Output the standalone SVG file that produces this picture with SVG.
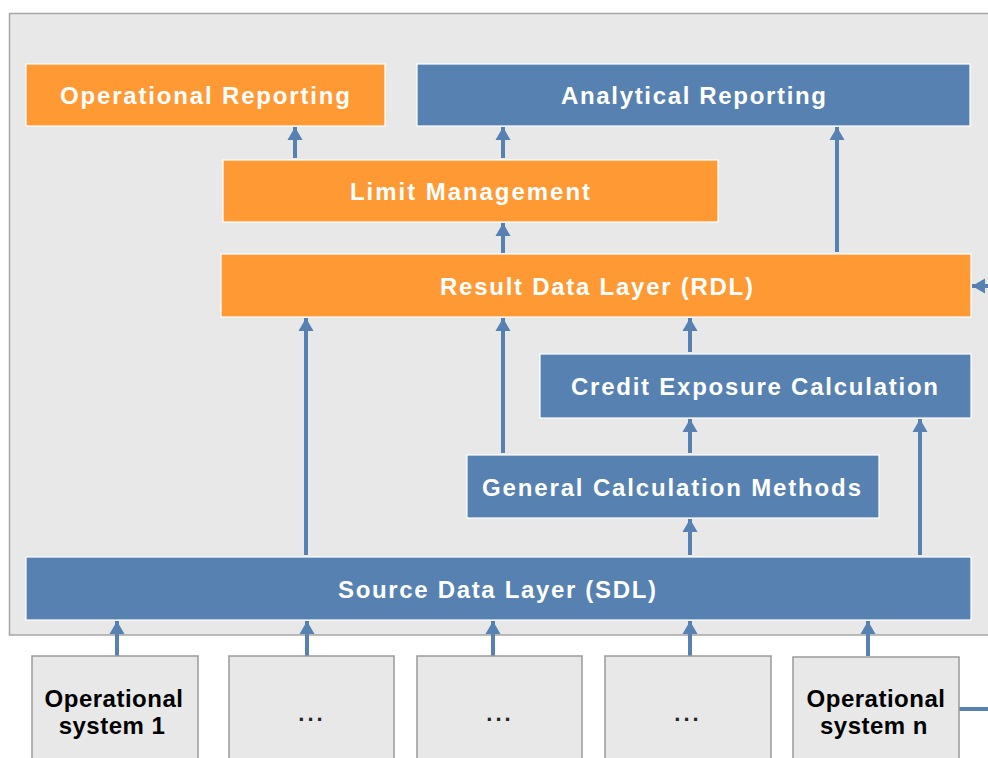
<svg xmlns="http://www.w3.org/2000/svg" width="988" height="758" viewBox="0 0 988 758">
<defs>
<style>
.bg{fill:#e8e8e8;stroke:#a6a6a6;stroke-width:1.5}
.or{fill:#ff9933;stroke:#ffffff;stroke-width:1.2}
.bl{fill:#5681b1;stroke:#ffffff;stroke-width:1.2}
.sys{fill:#e8e8e8;stroke:#9a9a9a;stroke-width:1.5}
.t{font-family:"Liberation Sans",Arial,sans-serif;font-weight:bold;font-size:24px;fill:#ffffff;text-anchor:middle}
.s{font-family:"Liberation Sans",Arial,sans-serif;font-weight:bold;font-size:24px;fill:#000000;text-anchor:middle;letter-spacing:0.5px}
.d{font-family:"Liberation Sans",Arial,sans-serif;font-weight:bold;font-size:22px;fill:#222222;text-anchor:middle;letter-spacing:3px}
.c{stroke:#5681b1;stroke-width:4;fill:none}
</style>
<marker id="ah" markerUnits="userSpaceOnUse" markerWidth="14" markerHeight="16" viewBox="0 0 14 16" refX="13" refY="8" orient="auto">
<path d="M0,0.5 L13,8 L0,15.5 z" fill="#5681b1"/>
</marker>
</defs>
<rect class="bg" x="9.5" y="13.5" width="1000" height="621.5"/>
<g id="connectors">
<line class="c" x1="295" y1="158" x2="295" y2="127" marker-end="url(#ah)"/>
<line class="c" x1="503" y1="158" x2="503" y2="127" marker-end="url(#ah)"/>
<line class="c" x1="837" y1="252" x2="837" y2="127" marker-end="url(#ah)"/>
<line class="c" x1="503" y1="253" x2="503" y2="223" marker-end="url(#ah)"/>
<line class="c" x1="306" y1="555" x2="306" y2="318" marker-end="url(#ah)"/>
<line class="c" x1="503" y1="453" x2="503" y2="318" marker-end="url(#ah)"/>
<line class="c" x1="690" y1="352" x2="690" y2="318" marker-end="url(#ah)"/>
<line class="c" x1="690" y1="453" x2="690" y2="419" marker-end="url(#ah)"/>
<line class="c" x1="920" y1="555" x2="920" y2="419" marker-end="url(#ah)"/>
<line class="c" x1="690" y1="555" x2="690" y2="519" marker-end="url(#ah)"/>
<line class="c" x1="117" y1="656" x2="117" y2="621" marker-end="url(#ah)"/>
<line class="c" x1="307" y1="656" x2="307" y2="621" marker-end="url(#ah)"/>
<line class="c" x1="493" y1="656" x2="493" y2="621" marker-end="url(#ah)"/>
<line class="c" x1="690" y1="656" x2="690" y2="621" marker-end="url(#ah)"/>
<line class="c" x1="868" y1="656" x2="868" y2="621" marker-end="url(#ah)"/>
<line class="c" x1="995" y1="286" x2="972" y2="286" marker-end="url(#ah)"/>
<line class="c" x1="959" y1="709" x2="990" y2="709"/>
</g>
<g id="operational-reporting">
<rect class="or" x="26" y="64" width="359" height="62"/>
<text class="t" x="205" y="104" textLength="290" lengthAdjust="spacing">Operational Reporting</text>
</g>
<g id="analytical-reporting">
<rect class="bl" x="417" y="64" width="553" height="62"/>
<text class="t" x="693.5" y="104" textLength="265" lengthAdjust="spacing">Analytical Reporting</text>
</g>
<g id="limit-management">
<rect class="or" x="223" y="160" width="495" height="62"/>
<text class="t" x="470" y="200" textLength="240" lengthAdjust="spacing">Limit Management</text>
</g>
<g id="rdl">
<rect class="or" x="221" y="254" width="750" height="63"/>
<text class="t" x="596.5" y="294.5" textLength="313" lengthAdjust="spacing">Result Data Layer (RDL)</text>
</g>
<g id="credit-exposure">
<rect class="bl" x="540" y="354" width="431" height="64"/>
<text class="t" x="754.5" y="395" textLength="367" lengthAdjust="spacing">Credit Exposure Calculation</text>
</g>
<g id="general-calc">
<rect class="bl" x="467" y="455" width="412" height="63"/>
<text class="t" x="671.5" y="495.5" textLength="379" lengthAdjust="spacing">General Calculation Methods</text>
</g>
<g id="sdl">
<rect class="bl" x="26" y="557" width="945" height="63"/>
<text class="t" x="497" y="597.5" textLength="318" lengthAdjust="spacing">Source Data Layer (SDL)</text>
</g>
<g id="system-1">
<rect class="sys" x="32" y="656" width="166" height="110"/>
<text class="s" x="114" y="707">Operational</text>
<text class="s" x="112" y="734">system 1</text>
</g>
<g id="system-2">
<rect class="sys" x="229" y="656" width="165" height="110"/>
<text class="d" x="312" y="721">...</text>
</g>
<g id="system-3">
<rect class="sys" x="417" y="656" width="165" height="110"/>
<text class="d" x="500" y="721">...</text>
</g>
<g id="system-4">
<rect class="sys" x="605" y="656" width="166" height="110"/>
<text class="d" x="688" y="721">...</text>
</g>
<g id="system-n">
<rect class="sys" x="793" y="657" width="166" height="110"/>
<text class="s" x="876" y="707">Operational</text>
<text class="s" x="874" y="734">system n</text>
</g>
</svg>
